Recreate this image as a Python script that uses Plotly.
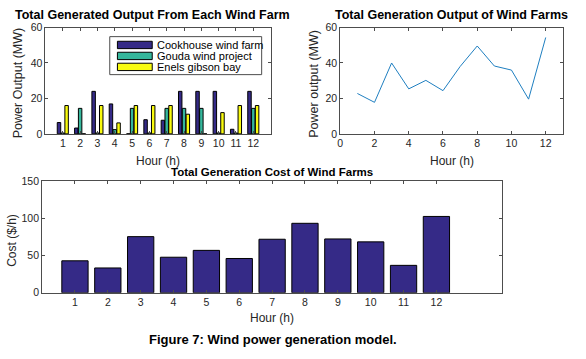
import plotly.graph_objects as go

hours = list(range(1, 13))
cookhouse = [6.4, 3.3, 24, 16.9, 0, 8, 7.7, 24, 24, 24, 2.6, 24]
gouda = [0.5, 14.4, 0.5, 2.4, 14.4, 0.5, 14.4, 14.4, 14.4, 0.5, 0.5, 14.4]
enels = [16, 0, 16, 6.2, 16, 16, 16, 11.1, 0, 12, 16, 16]
total_output = [22.8, 17.8, 40, 25.4, 30.2, 24.4, 38, 49.6, 38.3, 36, 19.6, 54.4]
cost = [42.9, 33.3, 75.3, 47.7, 56.9, 46, 71.8, 93.2, 72.2, 68.3, 36.8, 102.4]
series_names = ["Cookhouse wind farm", "Gouda wind project", "Enels gibson bay"]

W, H = 586, 359
FONT = "Liberation Sans, Arial, sans-serif"
AX = "#4d4d4d"
TXT = "#262626"
colors = ["#352A87", "#35B79C", "#F9FB0E"]
offsets = [-0.22, 0.0, 0.22]

fig = go.Figure()

for name, vals, col, off in zip(series_names, [cookhouse, gouda, enels], colors, offsets):
    fig.add_trace(go.Bar(x=hours, y=vals, name=name, marker_color=col,
                         marker_line_color="black", marker_line_width=1,
                         width=0.2, offset=off - 0.1, showlegend=False,
                         xaxis="x", yaxis="y"))

fig.add_trace(go.Scatter(x=hours, y=total_output, mode="lines",
                         line=dict(color="#1f7fc0", width=1),
                         showlegend=False, xaxis="x2", yaxis="y2"))

fig.add_trace(go.Bar(x=hours, y=cost, marker_color="#352A87",
                     marker_line_color="black", marker_line_width=1,
                     width=0.8, showlegend=False, xaxis="x3", yaxis="y3"))

def px(x):
    return x / W

def py(y):
    return 1 - y / H

axcommon = dict(showgrid=False, zeroline=False, showline=True, linecolor=AX,
                linewidth=1, mirror="ticks", ticks="inside", ticklen=3,
                tickcolor=AX, tickfont=dict(size=10.5, color=TXT, family=FONT))

fig.update_layout(
    width=W, height=H, margin=dict(l=0, r=0, t=0, b=0),
    paper_bgcolor="white", plot_bgcolor="white",
    font=dict(family=FONT, color=TXT),
    barmode="overlay", showlegend=False,
    xaxis=dict(domain=[px(42.7), px(269)], range=[0, 13], tickvals=hours,
               anchor="y", **axcommon),
    yaxis=dict(domain=[py(132.3), py(22.3)], range=[0, 60],
               tickvals=[0, 20, 40, 60], anchor="x", **axcommon),
    xaxis2=dict(domain=[px(339), px(562.7)], range=[0, 13],
                tickvals=[0, 2, 4, 6, 8, 10, 12], anchor="y2", **axcommon),
    yaxis2=dict(domain=[py(132.3), py(22.3)], range=[0, 60],
                tickvals=[0, 20, 40, 60], anchor="x2", **axcommon),
    xaxis3=dict(domain=[px(39.3), px(501.7)], range=[0, 14], tickvals=hours,
                anchor="y3", **axcommon),
    yaxis3=dict(domain=[py(296.7), py(181)], range=[0, 150],
                tickvals=[0, 50, 100, 150], anchor="x3", **axcommon),
)

ann = []
def add(text, x, y, size, bold=False, angle=0, xanchor="center", color=None):
    ann.append(dict(text=f"<b>{text}</b>" if bold else text,
                    x=px(x), y=py(y), xref="paper", yref="paper",
                    showarrow=False, textangle=angle,
                    xanchor=xanchor, yanchor="middle",
                    font=dict(size=size,
                              color=color or ("black" if bold else TXT),
                              family=FONT)))

add("Total Generated Output From Each Wind Farm", 150, 9.5, 12.5, bold=True)
add("Total Generation Output of Wind Farms", 451, 9.5, 12.5, bold=True)
add("Total Generation Cost of Wind Farms", 270.5, 172, 11.5, bold=True)
add("Hour (h)", 156, 160, 12)
add("Hour (h)", 451, 160, 12)
add("Hour (h)", 270.5, 323, 12)
add("Power Output (MW)", 15, 80, 12.5, angle=-90)
add("Power output (MW)", 313, 80, 12.5, angle=-90)
add("Cost ($/h)", 9, 242, 12, angle=-90)
add("Figure 7: Wind power generation model.", 271, 345, 13, bold=True)

# manual legend (wide swatches like the reference)
shapes = [dict(type="rect", xref="paper", yref="paper",
               x0=px(107.3), x1=px(260), y0=py(71), y1=py(31.7),
               line=dict(color=AX, width=1), fillcolor="white", layer="above")]
for i, (name, col) in enumerate(zip(series_names, colors)):
    yc = 40.3 + i * 11.35
    shapes.append(dict(type="rect", xref="paper", yref="paper",
                       x0=px(115), x1=px(150), y0=py(yc + 3.8), y1=py(yc - 3.8),
                       line=dict(color="black", width=1), fillcolor=col,
                       layer="above"))
    add(name, 153, yc, 11, xanchor="left", color="black")

fig.update_layout(annotations=ann, shapes=shapes)

fig.write_html("out.html", config={"displayModeBar": False},
               post_script="document.body.style.margin='0';")
